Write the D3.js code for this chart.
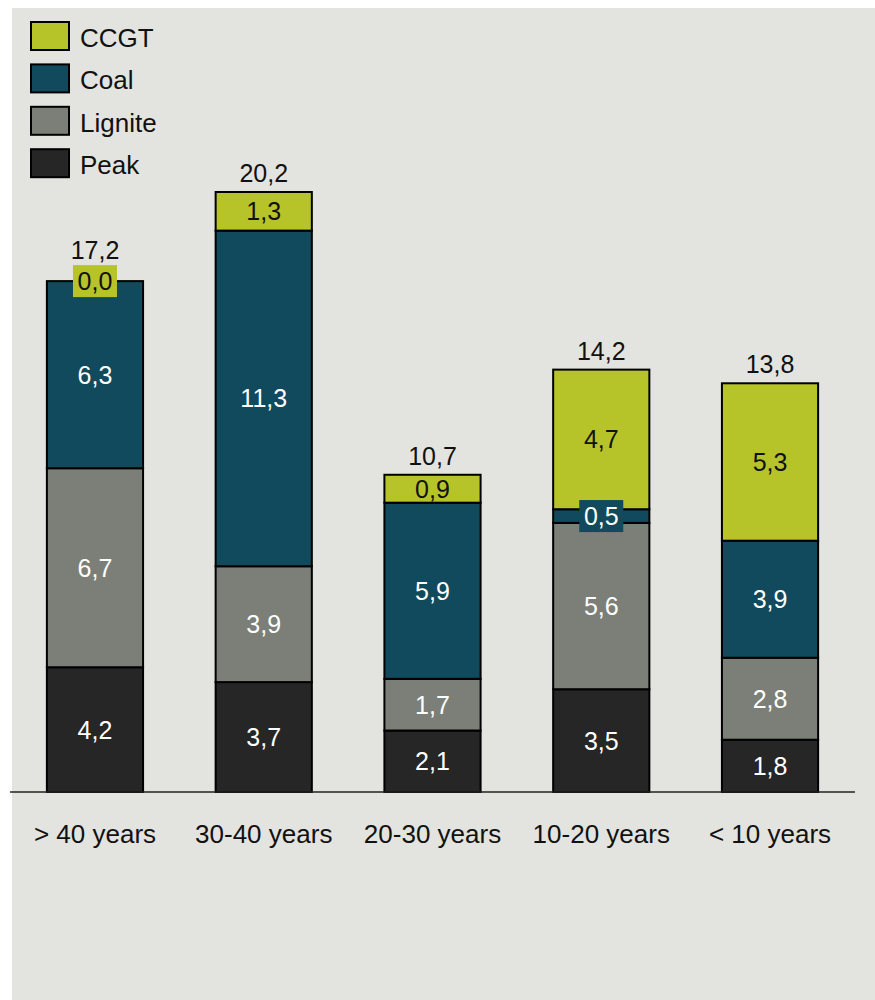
<!DOCTYPE html>
<html>
<head>
<meta charset="utf-8">
<script src="https://cdn.jsdelivr.net/npm/d3@7"></script>
<style>
  body { margin: 0; background: #fff; }
  svg { display: block; font-family: "Liberation Sans", Arial, sans-serif; }
</style>
</head>
<body>
<svg id="chart" width="875" height="1000"></svg>
<script>
// data (segment values, labels show them rounded)
const categories = ['> 40 years', '30-40 years', '20-30 years', '10-20 years', '< 10 years'];
const seriesNames = ['Peak', 'Lignite', 'Coal', 'CCGT'];
const peak = [4.2, 3.7, 2.07, 3.46, 1.76];
const lignite = [6.7, 3.9, 1.74, 5.6, 2.76];
const coal = [6.3, 11.3, 5.93, 0.46, 3.94];
const ccgt = [0.0, 1.3, 0.94, 4.7, 5.3];
const totals = [17.2, 20.2, 10.7, 14.2, 13.8];
const legendOrder = ['CCGT', 'Coal', 'Lignite', 'Peak'];

const colors = { Peak: '#262626', Lignite: '#7b7f78', Coal: '#114a5c', CCGT: '#b6c42a' };
const textColors = { Peak: '#fff', Lignite: '#fff', Coal: '#fff', CCGT: '#111' };

const svg = d3.select('#chart');
const fmt = v => d3.format('.1f')(v).replace('.', ',');

// background panel
svg.append('rect')
    .attr('x', 12).attr('y', 8)
    .attr('width', 863).attr('height', 992)
    .attr('fill', '#e3e3df');

const baseY = 792;
const x = d3.scaleBand()
    .domain(categories)
    .range([10.6, 854.4])
    .paddingInner(0.43)
    .paddingOuter(0.215);

const y = d3.scaleLinear()
    .domain([0, 20.2])
    .range([baseY, 192]);

const rows = categories.map((c, i) => ({
    category: c, Peak: peak[i], Lignite: lignite[i], Coal: coal[i], CCGT: ccgt[i]
}));
const stacked = d3.stack().keys(seriesNames)(rows);

const layers = svg.selectAll('g.layer')
    .data(stacked)
    .join('g')
    .attr('class', 'layer')
    .attr('fill', d => colors[d.key]);

layers.selectAll('rect')
    .data(d => d.filter(p => p[1] - p[0] > 0))
    .join('rect')
    .attr('x', d => x(d.data.category))
    .attr('y', d => y(d[1]))
    .attr('width', x.bandwidth())
    .attr('height', d => y(d[0]) - y(d[1]))
    .attr('stroke', '#000')
    .attr('stroke-width', 2);

// axis line
svg.append('line')
    .attr('x1', 10).attr('x2', 855)
    .attr('y1', baseY).attr('y2', baseY)
    .attr('stroke', '#222').attr('stroke-width', 1.5);

// segment labels
const boxTops = categories.map(() => Infinity);
stacked.forEach(layer => {
    layer.forEach(p => {
        const v = p[1] - p[0];
        const cx = x(p.data.category) + x.bandwidth() / 2;
        const cy = (y(p[0]) + y(p[1])) / 2;
        const g = svg.append('g');
        if (v < 0.6) {
            g.append('rect')
                .attr('x', cx - 22).attr('y', cy - 16)
                .attr('width', 44).attr('height', 32)
                .attr('fill', colors[layer.key]);
            const i = categories.indexOf(p.data.category);
            boxTops[i] = Math.min(boxTops[i], cy - 16);
        }
        g.append('text')
            .attr('x', cx).attr('y', cy)
            .attr('dy', '0.36em')
            .attr('text-anchor', 'middle')
            .attr('font-size', 25)
            .attr('fill', textColors[layer.key])
            .text(fmt(v));
    });
});

// totals
svg.selectAll('text.total')
    .data(categories)
    .join('text')
    .attr('class', 'total')
    .attr('x', d => x(d) + x.bandwidth() / 2)
    .attr('y', (d, i) => Math.min(y(stacked[3][i][1]) - 10, boxTops[i] - 6))
    .attr('text-anchor', 'middle')
    .attr('font-size', 25)
    .attr('fill', '#111')
    .text((d, i) => fmt(totals[i]));

// category labels
svg.selectAll('text.cat')
    .data(categories)
    .join('text')
    .attr('class', 'cat')
    .attr('x', d => x(d) + x.bandwidth() / 2)
    .attr('y', 843)
    .attr('text-anchor', 'middle')
    .attr('font-size', 26)
    .attr('fill', '#111')
    .text(d => d);

// legend
const legend = svg.selectAll('g.legend')
    .data(legendOrder)
    .join('g')
    .attr('class', 'legend')
    .attr('transform', (d, i) => `translate(31, ${22 + i * 42.4})`);

legend.append('rect')
    .attr('width', 38).attr('height', 28)
    .attr('fill', d => colors[d])
    .attr('stroke', '#000').attr('stroke-width', 2);

legend.append('text')
    .attr('x', 49).attr('y', 25)
    .attr('font-size', 26)
    .attr('fill', '#111')
    .text(d => d);
</script>
</body>
</html>
